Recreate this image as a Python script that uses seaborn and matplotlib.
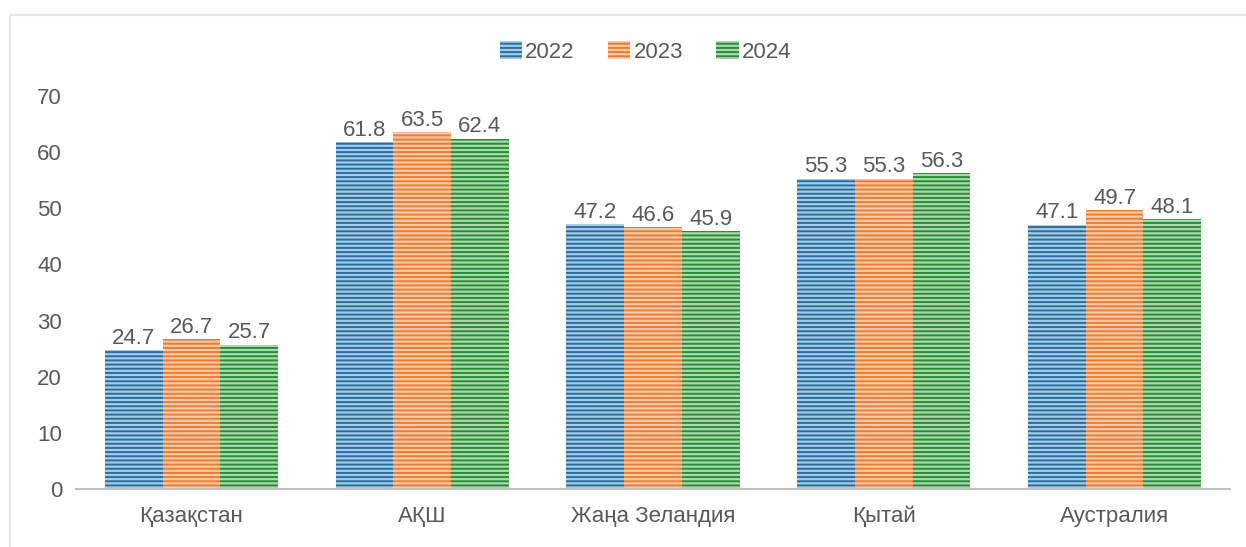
import pandas as pd
import matplotlib.pyplot as plt
import seaborn as sns
from matplotlib.patches import Rectangle

# --- DATA ---
countries = ["Қазақстан", "АҚШ", "Жаңа Зеландия", "Қытай", "Аустралия"]
years = ["2022", "2023", "2024"]
v2022 = [24.7, 61.8, 47.2, 55.3, 47.1]
v2023 = [26.7, 63.5, 46.6, 55.3, 49.7]
v2024 = [25.7, 62.4, 45.9, 56.3, 48.1]

# dark stripe colour / light background colour per year
dark = ["#2b6d9e", "#ee7b32", "#2b8a3b"]
light = ["#a3cce6", "#f9cba9", "#a9dba9"]
text_col = "#595959"

df = pd.DataFrame({
    "country": countries * 3,
    "year": [y for y in years for _ in countries],
    "value": v2022 + v2023 + v2024,
})

sns.set_style("white")
plt.rcParams["font.family"] = ["Liberation Sans", "DejaVu Sans"]
plt.rcParams["hatch.linewidth"] = 1.4

fig = plt.figure(figsize=(12.46, 5.47), dpi=100)
ax = fig.add_axes([76 / 1246, 1 - 489 / 547, (1230 - 76) / 1246, (489 - 96) / 547])

sns.barplot(data=df, x="country", y="value", hue="year", palette=dark,
            width=0.75, ax=ax, legend=False)

# striped fill
for i, cont in enumerate(ax.containers):
    for bar in cont:
        bar.set_facecolor(light[i])
        bar.set_edgecolor(dark[i])
        bar.set_hatch("----")
        bar.set_linewidth(0)
    ax.bar_label(cont, fmt="%.1f", padding=1, fontsize=16, color=text_col)

ax.set_ylim(0, 70)
ax.set_yticks(range(0, 71, 10))
ax.set_xlim(-0.5, 4.5)
ax.set_xlabel("")
ax.set_ylabel("")
ax.tick_params(axis="both", labelsize=16, colors=text_col, length=0)
ax.tick_params(axis="x", pad=12)
ax.tick_params(axis="y", pad=10)
sns.despine(ax=ax, left=True)
ax.spines["bottom"].set_color("#bfbfbf")
ax.spines["bottom"].set_linewidth(1.5)

# legend with striped squares
handles = [Rectangle((0, 0), 1, 1, facecolor=light[i], edgecolor=dark[i],
                     hatch="----", linewidth=0) for i in range(3)]
fig.legend(handles, years, loc="center", bbox_to_anchor=(0.518, 0.905), ncol=3,
           frameon=False, fontsize=16, labelcolor=text_col, handlelength=1.0,
           handleheight=0.9, handletextpad=0.15, columnspacing=1.5)

# light outer frame
fig.patches.append(Rectangle((10 / 1246, -0.01), 1.0, 1 - 15 / 547 + 0.01,
                             transform=fig.transFigure, fill=False,
                             edgecolor="#e6e6e6", linewidth=1.5))

fig.savefig("out.png", dpi=100, facecolor="white")
